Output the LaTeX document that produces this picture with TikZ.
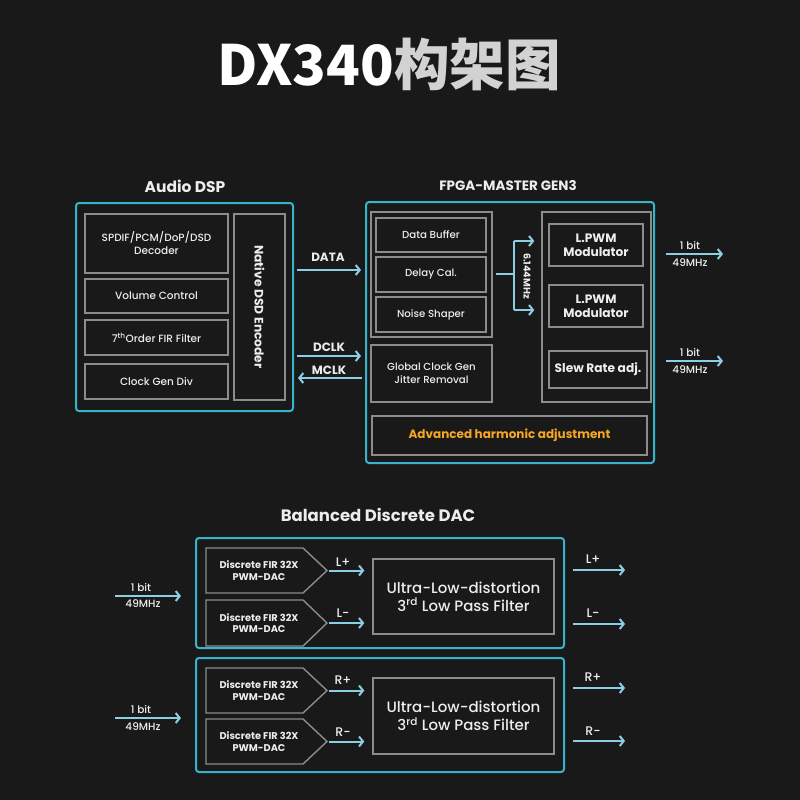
\documentclass[tikz,border=0pt]{standalone}
\usepackage{fontspec}
\setmainfont{Poppins}
\IfFontExistsTF{Poppins Medium}{\newfontfamily\medf{Poppins Medium}}{\newfontfamily\medf{Poppins}}
\newfontfamily\cjk{Noto Sans CJK SC}
\usetikzlibrary{arrows.meta}
\definecolor{bg}{HTML}{191919}
\definecolor{cyanb}{HTML}{3AB4CC}
\definecolor{arrc}{HTML}{8CCFE3}
\definecolor{grayb}{HTML}{8C8C8C}
\definecolor{orng}{HTML}{F5A623}
\definecolor{txt}{HTML}{EDEDED}
\definecolor{cjkc}{HTML}{D2D2D2}
\tikzset{
  every node/.style={text=txt, inner sep=0pt},
  outerbox/.style={draw=cyanb, line width=2pt, rounded corners=3pt},
  ibox/.style={draw=grayb, line width=1.4pt, align=center},
  firln/.style={draw=grayb, line width=1.4pt},
  firtxt/.style={align=center, font=\fontsize{9.8}{11.5}\selectfont\bfseries},
  arr/.style={draw=arrc, line width=2pt, -{Straight Barb[length=4pt,width=10pt]}},
  ln/.style={draw=arrc, line width=2pt},
  fdsp/.style={font=\fontsize{10.5}{13}\selectfont\medf},
  ffp/.style={font=\fontsize{10.2}{13}\selectfont\medf},
  lbl/.style={font=\fontsize{12}{13}\selectfont\bfseries},
  bitl/.style={font=\fontsize{10.5}{12}\selectfont\medf},
  pm/.style={font=\fontsize{12.5}{13}\selectfont\medf},
  pwm/.style={ibox, font=\fontsize{12.2}{14}\selectfont\bfseries}
}
\newcommand\firsig[3]{%
  \draw[firln] (206,#2) -- (303,#2) -- (327,{(#2+#3)/2}) -- (303,#3) -- (206,#3) -- cycle;
  \node[firtxt] (#1) at (259,{(#2+#3)/2}) {Discrete FIR 32X\\PWM-DAC};
  \coordinate (#1tip) at (327,{(#2+#3)/2});
}
\begin{document}
\begin{tikzpicture}[x=1pt,y=-1pt]
\fill[bg] (0,0) rectangle (800,800);
\useasboundingbox (0,0) rectangle (800,800);

% Title
\node[font=\fontsize{55.5}{60}\selectfont\cjk\bfseries, text=white] (title) at (389,64)
  {DX340\textcolor{cjkc}{构架图}};

% ---------- Audio DSP ----------
\node[font=\fontsize{15.5}{17}\selectfont\bfseries] (dsplbl) at (185,186) {Audio DSP};
\node[outerbox, minimum width=217pt, minimum height=208pt] (dsp) at (184.5,307) {};
\node[ibox, fdsp, minimum width=143pt, minimum height=59pt] (spdif) at (156.5,243.5) {SPDIF/PCM/DoP/DSD\\Decoder};
\node[ibox, fdsp, minimum width=143pt, minimum height=34pt] (vol) at (156.5,296) {Volume Control};
\node[ibox, fdsp, minimum width=143pt, minimum height=35pt] (fir) at (156.5,337.5) {7\textsuperscript{th}Order FIR Filter};
\node[ibox, fdsp, minimum width=143pt, minimum height=35pt] (cgd) at (156.5,381.5) {Clock Gen Div};
\node[ibox, minimum width=51pt, minimum height=186pt] (native) at (259.5,307) {};
\node[font=\fontsize{12.3}{14}\selectfont\bfseries, rotate=-90] (nativet) at (native.center) {Native DSD Encoder};

% ---------- FPGA ----------
\node[font=\fontsize{13.5}{17}\selectfont\bfseries] (fpgalbl) at (508,186) {FPGA-MASTER GEN3};
\node[outerbox, minimum width=288pt, minimum height=261pt] (fpga) at (510,332.5) {};
\node[ibox, minimum width=121pt, minimum height=125pt] (grpL) at (431.5,274.5) {};
\node[ibox, ffp, minimum width=110pt, minimum height=34pt] (dbuf) at (431,235) {Data Buffer};
\node[ibox, ffp, minimum width=110pt, minimum height=35pt] (delay) at (431,274.5) {Delay Cal.};
\node[ibox, ffp, minimum width=110pt, minimum height=35pt] (noise) at (431,314.5) {Noise Shaper};
\node[ibox, ffp, minimum width=121pt, minimum height=57pt] (gclk) at (431.5,373.5) {Global Clock Gen\\Jitter Removal};
\node[ibox, minimum width=275pt, minimum height=39pt, text=orng, font=\fontsize{12}{13}\selectfont\bfseries] (adv) at (509.5,435.5) {Advanced harmonic adjustment};
\node[ibox, minimum width=109pt, minimum height=190pt] (grpR) at (596.5,307) {};
\node[pwm, minimum width=94pt, minimum height=42pt] (lpwm1) at (596,245) {L.PWM\\Modulator};
\node[pwm, minimum width=94pt, minimum height=42pt] (lpwm2) at (596,306) {L.PWM\\Modulator};
\node[pwm, minimum width=98pt, minimum height=37pt] (slew) at (598,369.5) {Slew Rate adj.};

% bracket 6.144MHz
\coordinate (bj) at (514,274);
\coordinate (bt) at (514,241);
\coordinate (bb) at (514,310);
\draw[ln, shorten <=3pt] (grpL.east |- bj) -- (bj);
\draw[ln] (bt) -- (bb);
\draw[arr, shorten >=7pt] (bt) -- (grpR.west |- bt);
\draw[arr, shorten >=7pt] (bb) -- (grpR.west |- bb);
\node[font=\fontsize{9.5}{10}\selectfont\bfseries, rotate=-90] (mhz) at (527,276) {6.144MHz};

% DSP <-> FPGA
\coordinate (yd) at (0,270);
\coordinate (yc) at (0,356);
\coordinate (ym) at (0,378);
\draw[arr, shorten <=3pt, shorten >=4pt] (dsp.east |- yd) -- (fpga.west |- yd);
\draw[arr, shorten <=3pt, shorten >=4pt] (dsp.east |- yc) -- (fpga.west |- yc);
\draw[arr, shorten <=3pt, shorten >=4pt] (fpga.west |- ym) -- (dsp.east |- ym);
\node[lbl] (datal) at (328,257) {DATA};
\node[lbl] (dclkl) at (329,347) {DCLK};
\node[lbl] (mclkl) at (329,370) {MCLK};

% FPGA outputs
\coordinate (o1) at (723,254);
\coordinate (o2) at (723,361);
\draw[arr, shorten <=11pt] (fpga.east |- o1) -- (o1);
\draw[arr, shorten <=11pt] (fpga.east |- o2) -- (o2);
\node[bitl] (b1a) at (690,246) {1 bit};
\node[bitl] (b1b) at (690,263) {49MHz};
\node[bitl] (b2a) at (690,353) {1 bit};
\node[bitl] (b2b) at (690,370) {49MHz};

% ---------- DAC ----------
\node[font=\fontsize{16.5}{18}\selectfont\bfseries] (daclbl) at (378,515) {Balanced Discrete DAC};
\node[outerbox, minimum width=368pt, minimum height=110pt] (dacL) at (380,593) {};
\node[outerbox, minimum width=368pt, minimum height=114pt] (dacR) at (380,715) {};

\firsig{fa}{548}{593}
\firsig{fb}{600}{646}
\firsig{fc}{668}{713}
\firsig{fd}{719}{764}

\node[ibox, minimum width=181pt, minimum height=75pt, font=\fontsize{15}{18}\selectfont\medf] (ulpL) at (463.5,596.5) {Ultra-Low-distortion\\3\textsuperscript{rd} Low Pass Filter};
\node[ibox, minimum width=181pt, minimum height=76pt, font=\fontsize{15}{18}\selectfont\medf] (ulpR) at (463.5,716) {Ultra-Low-distortion\\3\textsuperscript{rd} Low Pass Filter};

\draw[arr, shorten <=2pt, shorten >=8pt] (fatip) -- (ulpL.west |- fatip);
\draw[arr, shorten <=2pt, shorten >=8pt] (fbtip) -- (ulpL.west |- fbtip);
\draw[arr, shorten <=2pt, shorten >=8pt] (fctip) -- (ulpR.west |- fctip);
\draw[arr, shorten <=2pt, shorten >=8pt] (fdtip) -- (ulpR.west |- fdtip);
\node[pm] (lpi) at (343,562) {L+};
\node[pm] (lmi) at (343,613) {L-};
\node[pm] (rpi) at (343,680) {R+};
\node[pm] (rmi) at (343,732) {R-};

% inputs
\coordinate (i1) at (115,596);
\coordinate (i2) at (115,718);
\draw[arr, shorten >=14pt] (i1) -- (dacL.west |- i1);
\draw[arr, shorten >=14pt] (i2) -- (dacR.west |- i2);
\node[bitl] (i1a) at (141,587) {1 bit};
\node[bitl] (i1b) at (143,604) {49MHz};
\node[bitl] (i2a) at (141,709) {1 bit};
\node[bitl] (i2b) at (143,727) {49MHz};

% outputs
\coordinate (ol1) at (625,570);
\coordinate (ol2) at (625,624);
\coordinate (or1) at (625,688);
\coordinate (or2) at (625,741);
\draw[arr, shorten <=8pt] (dacL.east |- ol1) -- (ol1);
\draw[arr, shorten <=8pt] (dacL.east |- ol2) -- (ol2);
\draw[arr, shorten <=8pt] (dacR.east |- or1) -- (or1);
\draw[arr, shorten <=8pt] (dacR.east |- or2) -- (or2);
\node[pm] (lpo) at (593,559) {L+};
\node[pm] (lmo) at (593,613) {L-};
\node[pm] (rpo) at (593,677) {R+};
\node[pm] (rmo) at (593,731) {R-};
\end{tikzpicture}
\end{document}
